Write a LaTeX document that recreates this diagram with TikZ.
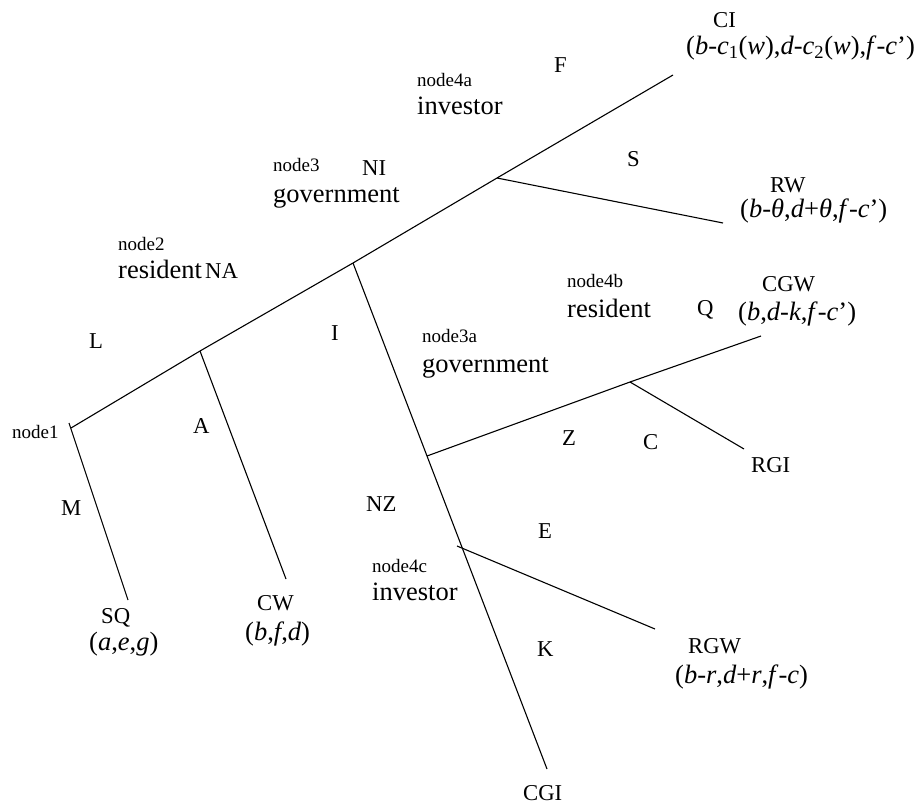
\documentclass[tikz,border=0pt]{standalone}
\usepackage{fontspec}
\setmainfont{Liberation Serif}
\begin{document}
\begin{tikzpicture}[x=1pt,y=-1pt,
  edge/.style={line width=1.1pt},
  lbl/.style={inner sep=0pt, anchor=base west, font=\fontsize{22.7}{24}\selectfont},
  tag/.style={inner sep=0pt, anchor=base west, font=\fontsize{19}{20}\selectfont},
  role/.style={inner sep=0pt, anchor=base west, font=\fontsize{26.5}{28}\selectfont},
  pay/.style={inner sep=0pt, anchor=base west, font=\fontsize{26.5}{28}\selectfont}]
\useasboundingbox (0,0) rectangle (915,805);
% junctions and ends
\coordinate (n1) at (71,428);
\coordinate (n1t) at (69,423);
\coordinate (n2) at (200,351);
\coordinate (n3) at (353,263);
\coordinate (n4a) at (497,178);
\coordinate (ciE) at (673,75);
\coordinate (sqE) at (128,600);
\coordinate (cwE) at (286,579);
\coordinate (rwE) at (723,223);
\coordinate (n3a) at (427,456);
\coordinate (cgiE) at (547,769);
\coordinate (n4cs) at (457,546);
\coordinate (rgwE) at (655,629);
\coordinate (n4b) at (630,382);
\coordinate (cgwE) at (761,336);
\coordinate (rgiE) at (744,449);
% connectors
\draw[edge] (n1) -- (n2) -- (n3) -- (n4a) -- (ciE);
\draw[edge] (n1t) -- (sqE);
\draw[edge] (n2) -- (cwE);
\draw[edge] (n4a) -- (rwE);
\draw[edge] (n3) -- (n3a) -- (cgiE);
\draw[edge] (n4cs) -- (rgwE);
\draw[edge] (n3a) -- (n4b) -- (cgwE);
\draw[edge] (n4b) -- (rgiE);
% decision node tags and roles
\node[tag] (t1) at (12,438) {node1};
\node[tag] (t2) at (118,250) {node2};
\node[role] (r2) at (118,278) {resident};
\node[tag] (t3) at (273,172) {node3};
\node[role] (r3) at (273,202) {government};
\node[tag] (t4a) at (417,87) {node4a};
\node[role] (r4a) at (417,115) {investor};
\node[tag] (t4b) at (567,287) {node4b};
\node[role] (r4b) at (567,317) {resident};
\node[tag] (t3a) at (422,342) {node3a};
\node[role] (r3a) at (422,372) {government};
\node[tag] (t4c) at (372,572) {node4c};
\node[role] (r4c) at (372,600) {investor};
% action labels
\node[lbl] (aL) at (89,348) {L};
\node[lbl] (aM) at (61,515) {M};
\node[lbl] (aA) at (193,433) {A};
\node[lbl] (aNA) at (205,278) {NA};
\node[lbl] (aNI) at (362,176) {NI};
\node[lbl] (aI) at (331,340) {I};
\node[lbl] (aF) at (554,73) {F};
\node[lbl] (aS) at (627,167) {S};
\node[lbl] (aQ) at (697,315) {Q};
\node[lbl] (aZ) at (562,445) {Z};
\node[lbl] (aC) at (643,449) {C};
\node[lbl] (aNZ) at (366,511) {NZ};
\node[lbl] (aE) at (538,538) {E};
\node[lbl] (aK) at (537,656) {K};
% outcomes
\node[lbl] (oCI) at (713,28) {CI};
\node[pay] (pCI) at (686,55) {(\textit{b}-\textit{c}\textsubscript{1}(\textit{w}),\textit{d}-\textit{c}\textsubscript{2}(\textit{w}),\textit{f}-\textit{c}')};
\node[lbl] (oRW) at (770,193) {RW};
\node[pay] (pRW) at (740,217) {(\textit{b}-\textit{θ},\textit{d}+\textit{θ},\textit{f}-\textit{c}')};
\node[lbl] (oCGW) at (762,291) {CGW};
\node[pay] (pCGW) at (738,320) {(\textit{b},\textit{d}-\textit{k},\textit{f}-\textit{c}')};
\node[lbl] (oRGI) at (751,472) {RGI};
\node[lbl] (oRGW) at (688,653) {RGW};
\node[pay] (pRGW) at (675,683) {(\textit{b}-\textit{r},\textit{d}+\textit{r},\textit{f}-\textit{c})};
\node[lbl] (oSQ) at (101,623) {SQ};
\node[pay] (pSQ) at (89,650) {(\textit{a},\textit{e},\textit{g})};
\node[lbl] (oCW) at (257,610) {CW};
\node[pay] (pCW) at (245,640) {(\textit{b},\textit{f},\textit{d})};
\node[lbl] (oCGI) at (523,800) {CGI};
\end{tikzpicture}
\end{document}
